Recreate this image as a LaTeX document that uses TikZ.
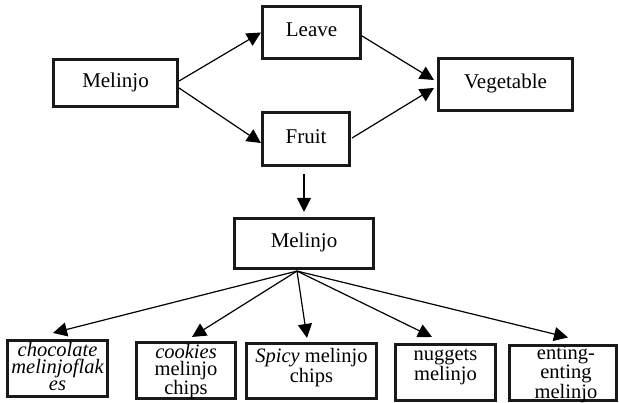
\documentclass[tikz,border=0pt]{standalone}
\usepackage{fontspec}
\setmainfont{Liberation Serif}
\usetikzlibrary{arrows.meta,calc}
\newcommand{\blines}[2]{\parbox[t]{130pt}{\centering\fontsize{20.5}{#1}\selectfont #2}}
\begin{document}
\begin{tikzpicture}[x=1pt,y=-1pt,
  box/.style={draw=black!90,line width=2.6pt,inner sep=0pt,fill=white},
  topbox/.style={box,font=\fontsize{21}{21}\selectfont,text height=14.5pt,text depth=6pt},
  lbl/.style={inner sep=0pt,anchor=base},
  arr/.style={line width=1.2pt,-{Triangle[length=14pt,width=14pt]}}]
\useasboundingbox (0,0) rectangle (619,403);
% top boxes
\node[topbox,minimum width=124.5pt,minimum height=47.5pt] (m1) at (115.5,83) {Melinjo};
\node[topbox,minimum width=98.5pt,minimum height=52.5pt] (leave) at (311.5,32.5) {Leave};
\node[topbox,minimum width=87.5pt,minimum height=53.5pt] (fruit) at (306,139) {Fruit};
\node[topbox,minimum width=134.5pt,minimum height=52.5pt] (veg) at (505.5,84.5) {Vegetable};
\node[topbox,minimum width=139.5pt,minimum height=50.5pt] (m2) at (304,243.5) {Melinjo};
% bottom boxes
\node[box,minimum width=100.5pt,minimum height=56.5pt] (b1) at (57.5,368.5) {};
\node[box,minimum width=99.5pt,minimum height=56.5pt] (b2) at (186,370.5) {};
\node[box,minimum width=130.5pt,minimum height=55.5pt] (b3) at (311.5,371) {};
\node[box,minimum width=100.5pt,minimum height=56.5pt] (b4) at (445.5,372.5) {};
\node[box,minimum width=107.5pt,minimum height=54.5pt] (b5) at (563,373) {};
% bottom texts
\node[lbl] (t1) at (57.5,357) {\blines{16.8}{\itshape chocolate\\melinjoflak\\es}};
\node[lbl] (t2) at (186,358.5) {\blines{16.8}{{\itshape cookies}\\melinjo\\chips}};
\node[lbl] (t3) at (311.5,363) {\blines{17.5}{{\itshape Spicy} melinjo\\chips}};
\node[lbl] (t4) at (445.5,361) {\blines{17.5}{nuggets\\melinjo}};
\node[lbl] (t5) at (566,359.5) {\blines{15}{enting-\\enting\\melinjo}};
% connectors
\draw[arr] ($(m1.east)+(0,-2)$) -- (leave.west);
\draw[arr] ($(m1.east)+(0,5)$) -- ($(fruit.west)+(0,4)$);
\draw[arr] ($(leave.east)+(0,3.5)$) -- ($(veg.west)+(-3,-4.5)$);
\draw[arr] ($(fruit.east)+(1,-1)$) -- ($(veg.west)+(-3,3.5)$);
\draw[arr] ($(fruit.south)+(-2,7)$) -- ($(m2.north)+(0,-5)$);
\coordinate (fan) at ($(m2.south)+(-7,1)$);
\draw[arr] (fan) -- ($(b1.north)+(-4.5,-6)$);
\draw[arr] (fan) -- ($(b2.north)+(6,-4)$);
\draw[arr] (fan) -- ($(b3.north)+(-4.5,-4)$);
\draw[arr] (fan) -- ($(b4.north)+(-13.5,-6)$);
\draw[arr] (fan) -- ($(b5.north)+(5,-7)$);
\end{tikzpicture}
\end{document}
